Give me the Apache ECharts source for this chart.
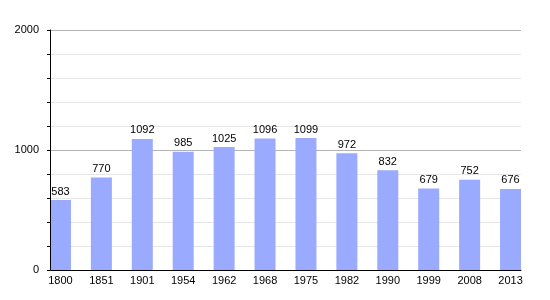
<!DOCTYPE html>
<html><head><meta charset="utf-8">
<script src="https://cdn.jsdelivr.net/npm/echarts@6/dist/echarts.min.js"></script>
<style>html,body{margin:0;padding:0;background:#fff}#c{width:550px;height:300px}</style>
</head><body><div id="c"></div>
<script>
const years = ['1800','1851','1901','1954','1962','1968','1975','1982','1990','1999','2008','2013'];
const population = [583,770,1092,985,1025,1096,1099,972,832,679,752,676];
const yTicks = [0,1000,2000];

const chart = echarts.init(document.getElementById('c'), null, {renderer:'canvas'});
const font = 'Liberation Sans, Arial, sans-serif';
chart.setOption({
  animation:false,
  backgroundColor:'#fff',
  grid:[
    {left:50, right:29, top:30, bottom:30},
    {left:40, right:19, top:30, bottom:30}
  ],
  xAxis:[
    {gridIndex:0, type:'category', data:years, boundaryGap:false,
     axisLine:{show:true, lineStyle:{color:'#000', width:1}}, axisTick:{show:false}, axisLabel:{show:false}, splitLine:{show:false}, z:5},
    {gridIndex:1, type:'category', data:years,
     axisLine:{show:false}, axisTick:{show:false},
     axisLabel:{color:'#000', fontSize:11, fontFamily:font, margin:5}}
  ],
  yAxis:[
    {gridIndex:0, type:'value', position:'left', min:0, max:2000, interval:200,
     axisLine:{show:false},
     axisTick:{show:true, length:3, lineStyle:{color:'#000'}},
     axisLabel:{color:'#000', fontSize:11, fontFamily:font, margin:11,
       formatter:v=> yTicks.indexOf(v) >= 0 ? String(v) : ''},
     splitLine:{show:true, lineStyle:{color:['#b4b4b4','#e6e6e6','#e6e6e6','#e6e6e6','#e6e6e6'], width:1}}, z:0},
    {gridIndex:1, type:'value', min:0, max:2000, show:false, splitLine:{show:false}},
    {gridIndex:0, type:'value', position:'left', offset:0, min:0, max:2000, interval:200,
     axisLine:{show:true, lineStyle:{color:'#000', width:1}},
     axisTick:{show:false}, axisLabel:{show:false}, splitLine:{show:false}, z:5}
  ],
  series:[{
    type:'bar', xAxisIndex:1, yAxisIndex:1, data:population, barWidth:21,
    itemStyle:{color:'#99aaff'}, z:2,
    label:{show:true, position:'top', distance:3, color:'#000', fontSize:11, fontFamily:font}
  }]
});
</script></body></html>
